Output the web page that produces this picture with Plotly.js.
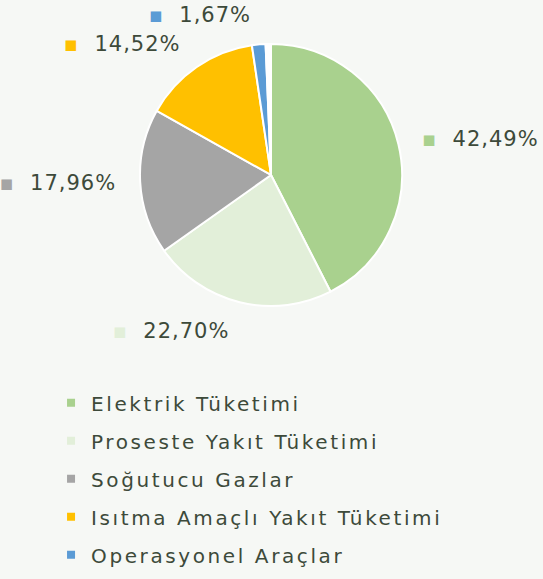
<!DOCTYPE html>
<html>
<head>
<meta charset="utf-8">
<script src="https://cdn.plot.ly/plotly-3.0.1.min.js"></script>
<style>
  html, body { margin: 0; padding: 0; background: #f6f8f5; }
  #chart { width: 543px; height: 579px; }
  text.legendtext { letter-spacing: 2.6px; }
  text.slicetext { letter-spacing: 1px; }
</style>
</head>
<body>
<div id="chart"></div>
<script>
// Data
const categories = [
  "Elektrik Tüketimi",
  "Proseste Yakıt Tüketimi",
  "Soğutucu Gazlar",
  "Isıtma Amaçlı Yakıt Tüketimi",
  "Operasyonel Araçlar"
];
const shares = [42.49, 22.70, 17.96, 14.52, 1.67];
const colors = ["#a9d18e", "#e2efd9", "#a5a5a5", "#ffc000", "#5b9bd5"];
// unlabelled remainder visible as a thin blank wedge at the top
const remainderLabel = "—";
const remainderColor = "#ffffff";

const textColor = "#3d4a3a";
const fontFamily = "DejaVu Sans, sans-serif";

const total = shares.reduce((a, b) => a + b, 0);
const remainder = Math.max(0, +(100 - total).toFixed(2));

const pieLabels = categories.concat([remainderLabel]);
const pieValues = shares.concat([remainder]);
const pieColors = colors.concat([remainderColor]);
const templates = colors.map(c =>
  '<span style="color:' + c + '">▪</span>  %{value:.2f}%'
).concat([""]);

// geometry of the pie (paper fractions)
const cx = 0.4991, cy = 0.6978;     // centre
const rx = 0.2413, ry = 0.2280;     // radius in x / y paper units
const lx = 0.0332, ly = 0.0311;     // extra distance for the outside labels

const pie = {
  type: "pie",
  labels: pieLabels,
  values: pieValues,
  sort: false,
  direction: "clockwise",
  rotation: 0,
  marker: { colors: pieColors, line: { color: "#ffffff", width: 2 } },
  textinfo: "none",
  showlegend: false,
  hoverinfo: "label+value",
  automargin: false,
  domain: { x: [cx - rx, cx + rx], y: [cy - ry, cy + ry] }
};

// same data, slightly larger transparent ring that only carries the outside labels
const labelRing = {
  type: "pie",
  labels: pieLabels,
  values: pieValues,
  sort: false,
  direction: "clockwise",
  rotation: 0,
  marker: { colors: pieValues.map(() => "rgba(0,0,0,0)"), line: { width: 0 } },
  texttemplate: templates,
  textposition: "outside",
  outsidetextfont: { family: fontFamily, size: 21, color: textColor },
  showlegend: false,
  hoverinfo: "skip",
  automargin: false,
  domain: { x: [cx - rx - lx, cx + rx + lx], y: [cy - ry - ly, cy + ry + ly] }
};

const legendTraces = categories.map((name, i) => ({
  type: "scatter",
  mode: "markers",
  x: [null],
  y: [null],
  name: name,
  legendgroup: "g" + i,
  marker: { symbol: "square", size: 8, color: colors[i] },
  showlegend: true,
  hoverinfo: "skip"
}));

const layout = {
  width: 543,
  height: 579,
  margin: { l: 0, r: 0, t: 0, b: 0 },
  paper_bgcolor: "#f6f8f5",
  plot_bgcolor: "rgba(0,0,0,0)",
  separators: ",.",
  font: { family: fontFamily, color: textColor },
  xaxis: { visible: false, domain: [0, 0.01] },
  yaxis: { visible: false, domain: [0, 0.01] },
  showlegend: true,
  legend: {
    x: 0.094,
    xanchor: "left",
    y: 0.338,
    yanchor: "top",
    orientation: "v",
    traceorder: "grouped",
    tracegroupgap: 9,
    bgcolor: "rgba(0,0,0,0)",
    font: { family: fontFamily, size: 20, color: textColor },
    itemclick: false,
    itemdoubleclick: false
  }
};

Plotly.newPlot("chart", [labelRing, pie].concat(legendTraces), layout, { displayModeBar: false, staticPlot: true });
</script>
</body>
</html>
